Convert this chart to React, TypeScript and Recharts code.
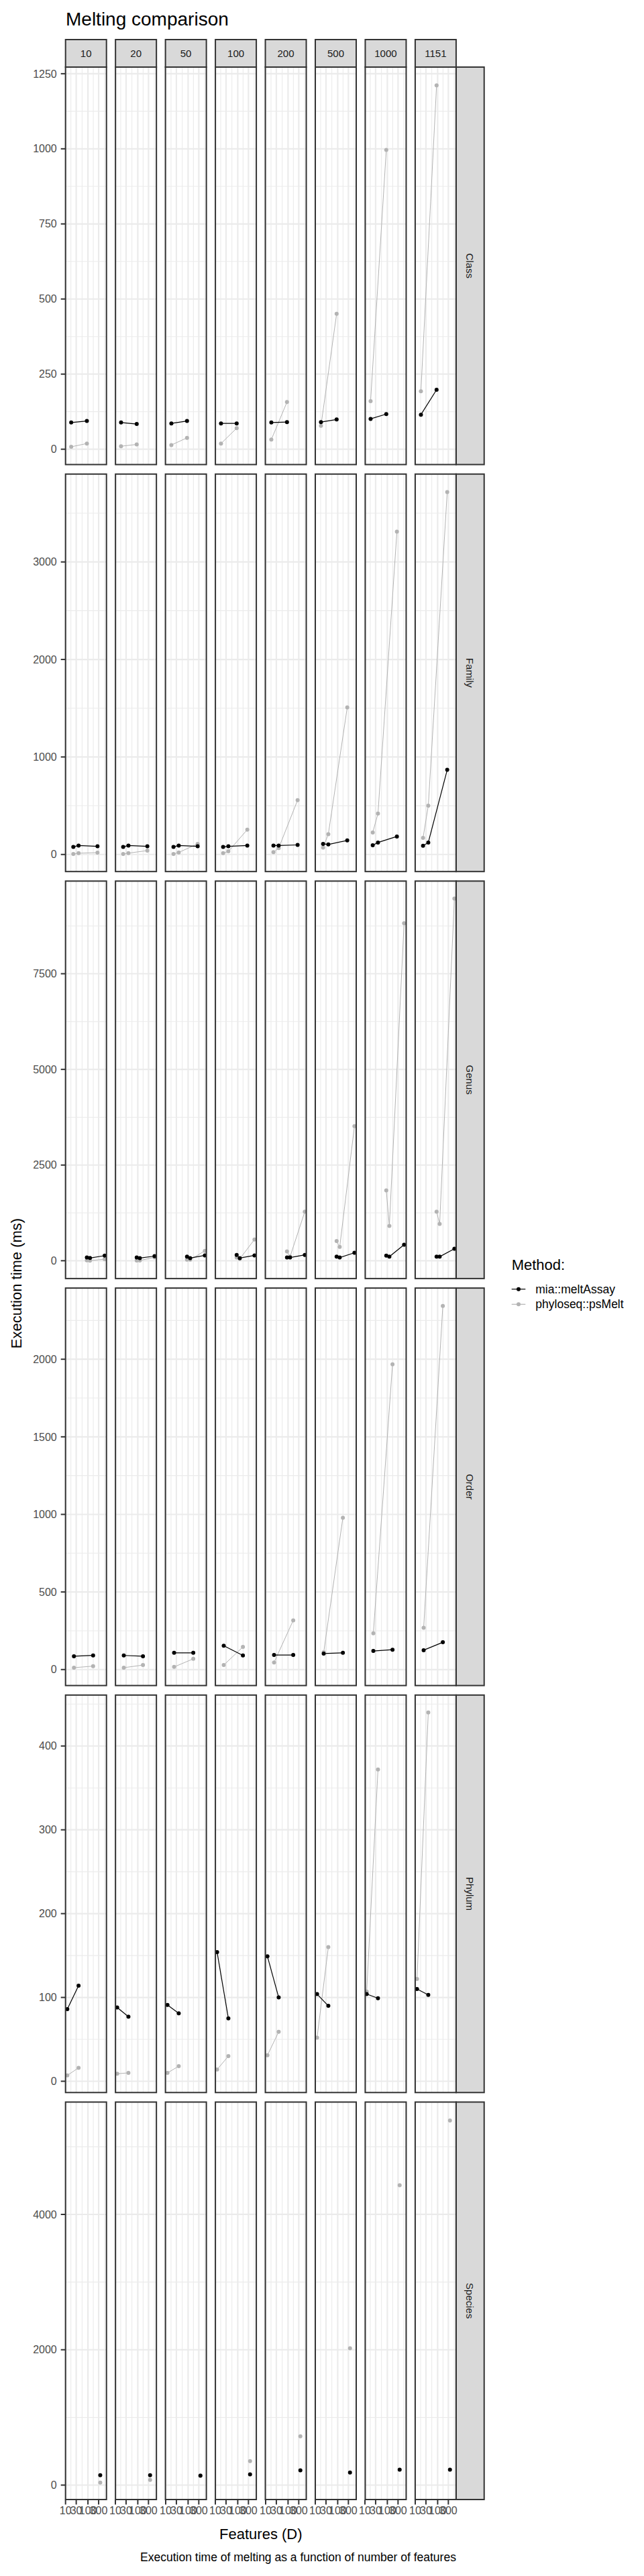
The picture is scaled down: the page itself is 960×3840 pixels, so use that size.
import React from 'react';
import { LineChart, Line, XAxis, YAxis, CartesianGrid } from 'recharts';

// ---------- categories ----------
const SAMPLE_SIZES = ['10', '20', '50', '100', '200', '500', '1000', '1151'];
const RANKS = ['Class', 'Family', 'Genus', 'Order', 'Phylum', 'Species'];
const METHODS = ['mia::meltAssay', 'phyloseq::psMelt'];
const METHOD_COLORS = ['#000000', '#b3b3b3'];

// ---------- x axis (features, log scale) ----------
const X_TICKS = [10, 30, 100, 300];
const X_MINOR = [17.3, 54.8, 173, 548];
const X_DOMAIN = [10, 670];

// ---------- Class ----------
const classFeatures = [17.9, 89.5];
const classMia = [[89, 94], [89, 84], [86, 94], [86, 86], [89, 90.5], [90.5, 99], [101, 117], [115, 198]];
const classPs = [[8, 19], [10, 16], [14, 38], [19, 70], [32, 157], [78, 451], [160, 996], [193, 1211]];
const classTicks = [0, 250, 500, 750, 1000, 1250];
const classMinor = [125, 375, 625, 875, 1125];
const classDomain = [-51, 1272];

// ---------- Family ----------
const familyFeatures = [22.3, 38.2, 267];
const familyMia = [[78, 92, 84], [78, 92, 84], [78, 92, 84], [78, 84, 92], [92, 92, 98], [109, 103, 144], [95, 123, 185], [89, 123, 868]];
const familyPs = [[5, 13, 19], [5, 14, 40], [5, 21, 109], [14, 32, 255], [24, 65, 558], [71, 209, 1509], [226, 419, 3311], [171, 500, 3717]];
const familyTicks = [0, 1000, 2000, 3000];
const familyMinor = [500, 1500, 2500, 3500];
const familyDomain = [-177, 3899];

// ---------- Genus ----------
const genusFeatures = [89.5, 123, 558];
const genusMia = [[84, 70, 133], [84, 70, 120], [106, 70, 140], [152, 70, 140], [84, 84, 152], [106, 84, 209], [133, 106, 417], [106, 106, 312]];
const genusPs = [[10, 3, 40], [5, 5, 90], [28, 28, 258], [84, 49, 556], [244, 106, 1283], [514, 361, 3515], [1837, 908, 8818], [1283, 964, 9463]];
const genusTicks = [0, 2500, 5000, 7500];
const genusMinor = [1250, 3750, 6250, 8750];
const genusDomain = [-458, 9928];

// ---------- Order ----------
const orderFeatures = [23.7, 170];
const orderMia = [[86, 91], [91, 86], [108, 108], [154, 91], [94, 94], [103, 108], [120, 128], [125, 176]];
const orderPs = [[12, 22], [12, 29], [17, 69], [29, 146], [46, 317], [111, 978], [234, 1967], [269, 2343]];
const orderTicks = [0, 500, 1000, 1500, 2000];
const orderMinor = [250, 750, 1250, 1750, 2250];
const orderDomain = [-102.5, 2459];

// ---------- Phylum ----------
const phylumFeatures = [12.0, 38.2];
const phylumMia = [[86, 114], [88, 77], [91, 81], [154, 75], [149, 100], [104, 90], [104, 99], [110, 103]];
const phylumPs = [[7, 16], [9, 10], [10, 18], [14, 30], [31, 59], [52, 160], [107, 372], [122, 440]];
const phylumTicks = [0, 100, 200, 300, 400];
const phylumMinor = [50, 150, 250, 350, 450];
const phylumDomain = [-13.6, 460.6];

// ---------- Species ----------
const speciesFeatures = [354];
const speciesMia = [[146], [146], [139], [159], [218], [186], [228], [228]];
const speciesPs = [[37], [76], [145], [354], [722], [2022], [4430], [5387]];
const speciesTicks = [0, 2000, 4000];
const speciesMinor = [1000, 3000, 5000];
const speciesDomain = [-218, 5655];

const ROWS = [
  { features: classFeatures, mia: classMia, ps: classPs, ticks: classTicks, minor: classMinor, domain: classDomain },
  { features: familyFeatures, mia: familyMia, ps: familyPs, ticks: familyTicks, minor: familyMinor, domain: familyDomain },
  { features: genusFeatures, mia: genusMia, ps: genusPs, ticks: genusTicks, minor: genusMinor, domain: genusDomain },
  { features: orderFeatures, mia: orderMia, ps: orderPs, ticks: orderTicks, minor: orderMinor, domain: orderDomain },
  { features: phylumFeatures, mia: phylumMia, ps: phylumPs, ticks: phylumTicks, minor: phylumMinor, domain: phylumDomain },
  { features: speciesFeatures, mia: speciesMia, ps: speciesPs, ticks: speciesTicks, minor: speciesMinor, domain: speciesDomain },
];

// ---------- layout ----------
const FONT = '"Liberation Sans", Arial, Helvetica, sans-serif';
const PANEL_X0 = 97.7;
const PANEL_STEP = 74.46;
const PANEL_W = 61;
const ROW_Y0 = 100;
const ROW_STEP = 606.7;
const PANEL_H = 592.5;
const STRIP_H = 41;
const STRIP_W = 41.8;
const X_AXIS_H = 34;

const panelLeft = (c: number) => PANEL_X0 + c * PANEL_STEP;
const rowTop = (r: number) => ROW_Y0 + r * ROW_STEP;

function Panel({ r, c }: { r: number; c: number }) {
  const row = ROWS[r];
  const isFirst = c === 0;
  const isLast = r === ROWS.length - 1;
  const left = isFirst ? 0 : panelLeft(c);
  const width = isFirst ? panelLeft(0) + PANEL_W : PANEL_W;
  const height = PANEL_H + (isLast ? X_AXIS_H : 0);
  const miaData = row.features.map((x, i) => ({ x, y: row.mia[c][i] }));
  const psData = row.features.map((x, i) => ({ x, y: row.ps[c][i] }));
  return (
    <div style={{ position: 'absolute', left, top: rowTop(r), width, height, overflow: 'visible' }}>
      <LineChart width={width} height={height} margin={{ top: 0, right: 0, bottom: 0, left: 0 }} style={{ overflow: 'visible' }}>
        <XAxis
          dataKey="x"
          type="number"
          scale="log"
          domain={X_DOMAIN}
          allowDataOverflow
          ticks={X_TICKS}
          interval={0}
          hide={!isLast}
          height={isLast ? X_AXIS_H : 0}
          axisLine={false}
          tickSize={7}
          tickMargin={3}
          tick={{ fontSize: 16, fill: '#4d4d4d', fontFamily: FONT }}
          tickLine={{ stroke: '#333333', strokeWidth: 2 }}
        />
        <YAxis
          type="number"
          domain={row.domain}
          allowDataOverflow
          ticks={row.ticks}
          interval={0}
          hide={!isFirst}
          width={isFirst ? panelLeft(0) : 0}
          axisLine={false}
          tickSize={7}
          tickMargin={6}
          tick={{ fontSize: 16, fill: '#4d4d4d', fontFamily: FONT }}
          tickLine={{ stroke: '#333333', strokeWidth: 2 }}
        />
        <CartesianGrid verticalValues={X_MINOR} horizontalValues={row.minor} stroke="#ebebeb" strokeWidth={1.1} />
        <CartesianGrid verticalValues={X_TICKS} horizontalValues={row.ticks} stroke="#ebebeb" strokeWidth={2.2} />
        <Line
          data={psData}
          dataKey="y"
          stroke={METHOD_COLORS[1]}
          strokeWidth={1}
          dot={{ r: 3, fill: METHOD_COLORS[1], stroke: METHOD_COLORS[1], strokeWidth: 0 }}
          activeDot={false}
          isAnimationActive={false}
        />
        <Line
          data={miaData}
          dataKey="y"
          stroke={METHOD_COLORS[0]}
          strokeWidth={1.2}
          dot={{ r: 3, fill: METHOD_COLORS[0], stroke: METHOD_COLORS[0], strokeWidth: 0 }}
          activeDot={false}
          isAnimationActive={false}
        />
      </LineChart>
    </div>
  );
}

export default function App() {
  const rightStripX = panelLeft(SAMPLE_SIZES.length - 1) + PANEL_W;
  const panelsRight = rightStripX;
  const plotMidY = (rowTop(0) + rowTop(ROWS.length - 1) + PANEL_H) / 2;
  return (
    <div style={{ position: 'absolute', left: 0, top: 0, width: 960, height: 3840, background: '#ffffff', fontFamily: FONT }}>
      <style>{`.recharts-wrapper, .recharts-surface { overflow: visible !important; }`}</style>
      {ROWS.map((_, r) => SAMPLE_SIZES.map((_s, c) => <Panel key={`${r}-${c}`} r={r} c={c} />))}
      <svg width={960} height={3840} style={{ position: 'absolute', left: 0, top: 0, pointerEvents: 'none' }} fontFamily={FONT}>
        <text x={98} y={38} fontSize={28} fill="#000">Melting comparison</text>
        {SAMPLE_SIZES.map((s, c) => (
          <g key={s}>
            <rect x={panelLeft(c)} y={ROW_Y0 - STRIP_H} width={PANEL_W} height={STRIP_H} fill="#d9d9d9" stroke="#333333" strokeWidth={2} />
            <text x={panelLeft(c) + PANEL_W / 2} y={ROW_Y0 - STRIP_H / 2} fontSize={15} fill="#1a1a1a" textAnchor="middle" dominantBaseline="central">{s}</text>
          </g>
        ))}
        {RANKS.map((rank, r) => (
          <g key={rank}>
            <rect x={rightStripX} y={rowTop(r)} width={STRIP_W} height={PANEL_H} fill="#d9d9d9" stroke="#333333" strokeWidth={2} />
            <text
              transform={`translate(${rightStripX + STRIP_W / 2}, ${rowTop(r) + PANEL_H / 2}) rotate(90)`}
              fontSize={15}
              fill="#1a1a1a"
              textAnchor="middle"
              dominantBaseline="central"
            >
              {rank}
            </text>
            {SAMPLE_SIZES.map((s, c) => (
              <rect key={s} x={panelLeft(c)} y={rowTop(r)} width={PANEL_W} height={PANEL_H} fill="none" stroke="#333333" strokeWidth={2} />
            ))}
          </g>
        ))}
        <text transform={`translate(24, ${plotMidY}) rotate(-90)`} fontSize={22} fill="#000" textAnchor="middle" dominantBaseline="central">
          Execution time (ms)
        </text>
        <text x={(PANEL_X0 + panelsRight) / 2} y={3785} fontSize={22} fill="#000" textAnchor="middle">Features (D)</text>
        <text x={panelsRight} y={3818} fontSize={17.5} fill="#000" textAnchor="end">
          Execution time of melting as a function of number of features
        </text>
        <text x={762.7} y={1893} fontSize={22} fill="#000">Method:</text>
        {METHODS.map((m, i) => {
          const cy = 1921.7 + i * 22.6;
          return (
            <g key={m}>
              <line x1={762.7} x2={783.3} y1={cy} y2={cy} stroke={METHOD_COLORS[i]} strokeWidth={1.2} />
              <circle cx={773} cy={cy} r={3} fill={METHOD_COLORS[i]} />
              <text x={798.3} y={cy} fontSize={17.5} fill="#000" dominantBaseline="central">{m}</text>
            </g>
          );
        })}
      </svg>
    </div>
  );
}
